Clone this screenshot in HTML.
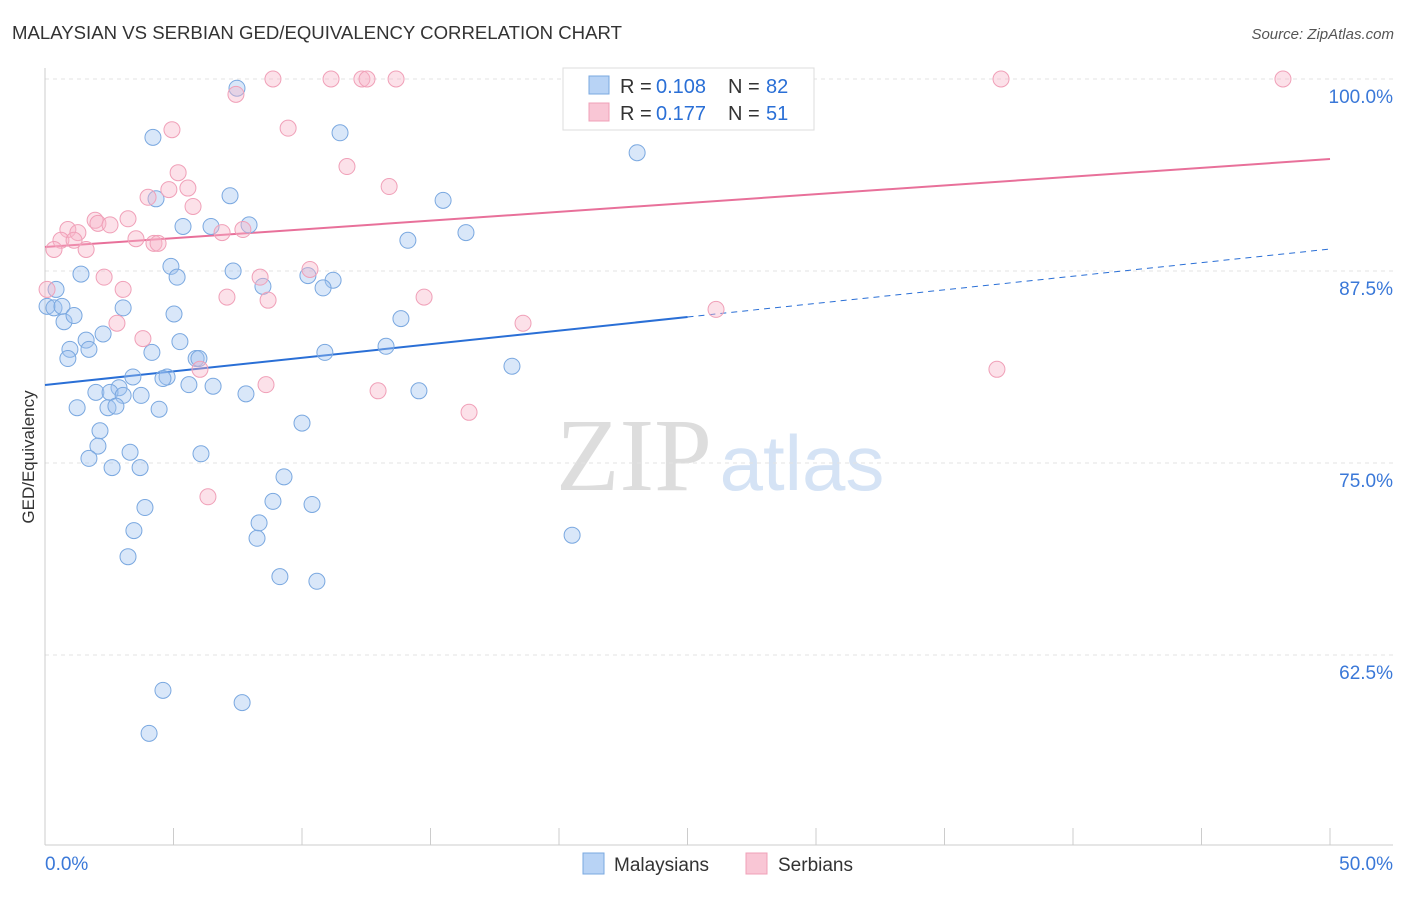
<!DOCTYPE html>
<html><head><meta charset="utf-8"><style>
body{margin:0;background:#fff;font-family:"Liberation Sans",sans-serif}
</style></head><body>
<svg id="c" width="1406" height="892" xmlns="http://www.w3.org/2000/svg">
<text x="12" y="39" font-size="18.6" fill="#333">MALAYSIAN VS SERBIAN GED/EQUIVALENCY CORRELATION CHART</text>
<text x="1394" y="39" font-size="15" fill="#555" font-style="italic" text-anchor="end">Source: ZipAtlas.com</text>
<text x="34" y="457" font-size="17" fill="#333" transform="rotate(-90 34 457)" text-anchor="middle">GED/Equivalency</text>
<g><text x="634" y="490" font-size="104" fill="#ddd" font-family="Liberation Serif" text-anchor="middle">ZIP</text><text x="802" y="490" font-size="78" fill="#d5e3f5" text-anchor="middle">atlas</text></g>
<g id="grid"></g><g id="axes"></g><g id="lines"></g><g id="pts"></g>
<g>
<rect x="563" y="68" width="251" height="62" fill="#fff" stroke="#ddd"/>
<rect x="589" y="76" width="20" height="18" fill="#b8d3f5" stroke="#7aa8e0"/>
<rect x="589" y="103" width="20" height="18" fill="#f9c6d5" stroke="#f0a0b8"/>
<text x="620" y="93" font-size="20" fill="#333">R =</text><text x="656" y="93" font-size="20" fill="#2a6fd6">0.108</text>
<text x="728" y="93" font-size="20" fill="#333">N =</text><text x="766" y="93" font-size="20" fill="#2a6fd6">82</text>
<text x="620" y="120" font-size="20" fill="#333">R =</text><text x="656" y="120" font-size="20" fill="#2a6fd6">0.177</text>
<text x="728" y="120" font-size="20" fill="#333">N =</text><text x="766" y="120" font-size="20" fill="#2a6fd6">51</text>
</g>
<g>
<rect x="583" y="853" width="21" height="21" fill="#b8d3f5" stroke="#7aa8e0"/>
<text x="614" y="871" font-size="19" fill="#333">Malaysians</text>
<rect x="746" y="853" width="21" height="21" fill="#f9c6d5" stroke="#f0a0b8"/>
<text x="778" y="871" font-size="19" fill="#333">Serbians</text>
</g>
</svg>
<script>
const blueX=[7.47,4.20,11.48,23.04,4.32,7.20,15.49,5.37,6.46,7.94,16.38,14.12,1.40,4.90,7.32,5.14,10.23,11.21,8.48,10.82,0.43,0.08,0.35,0.66,3.04,0.74,1.13,5.02,13.85,1.60,2.26,5.25,0.97,1.71,4.16,10.89,13.27,0.89,5.88,5.99,18.17,3.42,4.75,4.59,2.88,5.60,6.54,1.98,2.53,3.04,3.74,7.82,14.55,1.25,2.45,2.76,4.44,10.0,2.14,2.06,3.31,6.07,1.71,2.61,3.70,9.30,8.87,3.89,10.39,8.33,3.46,8.25,20.51,3.23,9.14,10.58,4.59,7.67,4.05];
const blueY=[99.4,96.2,96.5,95.2,92.2,92.4,92.1,90.4,90.4,90.5,90.0,89.5,87.3,87.8,87.5,87.1,87.2,86.9,86.5,86.4,86.3,85.2,85.1,85.2,85.1,84.2,84.6,84.7,84.4,83.0,83.4,82.9,82.4,82.4,82.2,82.2,82.6,81.8,81.8,81.8,81.3,80.6,80.6,80.5,79.9,80.1,80.0,79.6,79.6,79.4,79.4,79.5,79.7,78.6,78.6,78.7,78.5,77.6,77.1,76.1,75.7,75.6,75.3,74.7,74.7,74.1,72.5,72.1,72.3,71.1,70.6,70.1,70.3,68.9,67.6,67.3,60.2,59.4,57.4];
const pinkX=[8.87,11.13,12.33,12.53,13.66,20.58,37.20,48.17,7.43,4.94,9.46,11.75,5.18,13.39,4.82,5.56,4.01,5.76,1.95,3.23,2.06,2.53,0.89,1.28,7.70,6.89,3.54,0.62,1.13,4.24,4.40,0.35,1.60,10.31,2.30,8.37,3.04,0.08,7.08,8.68,14.75,26.11,2.80,18.60,3.81,6.03,8.60,37.04,12.96,16.50,6.34];
const pinkY=[100,100,100,100,100,100,100,100,99.0,96.7,96.8,94.3,93.9,93.0,92.8,92.9,92.3,91.7,90.8,90.9,90.6,90.5,90.2,90.0,90.2,90.0,89.6,89.5,89.5,89.3,89.3,88.9,88.9,87.6,87.1,87.1,86.3,86.3,85.8,85.6,85.8,85.0,84.1,84.1,83.1,81.1,80.1,81.1,79.7,78.3,72.8];
const yTicks=[100,87.5,75,62.5];
const yTickLabels=["100.0%","87.5%","75.0%","62.5%"];
const blueLine=[80.08,88.93]; const blueSolidEnd=25;
const pinkLine=[89.06,94.79];
const NS="http://www.w3.org/2000/svg";
const sx=v=>45+v*25.7, sy=v=>79+(100-v)*15.36;
function mk(t,a,p){const e=document.createElementNS(NS,t);for(const k in a)e.setAttribute(k,a[k]);p.appendChild(e);return e;}
const grid=document.getElementById('grid'),axes=document.getElementById('axes');
yTicks.forEach((v,i)=>{
 const g=mk('line',{x1:45,x2:1393,y1:sy(v),y2:sy(v),stroke:'#e3e3e3','stroke-dasharray':'4,4'},grid);
 
 
 const t=mk('text',{x:1393,y:sy(v)+24,'font-size':19,fill:'#3a78d8','text-anchor':'end'},axes);t.textContent=yTickLabels[i];
 
 
});
mk('line',{x1:45,x2:45,y1:68,y2:845,stroke:'#ccc'},axes);
mk('line',{x1:45,x2:1393,y1:845,y2:845,stroke:'#ccc'},axes);
for(let v=0;v<=50;v+=5){const l=mk('line',{x1:sx(v),x2:sx(v),y1:828,y2:845,stroke:'#ccc'},axes);
 
 }
let t=mk('text',{x:45,y:870,'font-size':19,fill:'#3a78d8'},axes);t.textContent='0.0%';


t=mk('text',{x:1393,y:870,'font-size':19,fill:'#3a78d8','text-anchor':'end'},axes);t.textContent='50.0%';


const pts=document.getElementById('pts');
function dots(X,Y,fill,stroke,name){X.forEach((x,i)=>{const c=mk('circle',{cx:sx(x),cy:sy(Y[i]),r:8,fill:fill,stroke:stroke,'stroke-width':1},pts);
 
 });}
dots(blueX,blueY,'rgba(160,196,240,0.4)','#7aa8e0','malaysian-point');
dots(pinkX,pinkY,'rgba(248,180,200,0.4)','#f0a0b8','serbian-point');
const lines=document.getElementById('lines');
const yb=x=>blueLine[0]+(blueLine[1]-blueLine[0])*x/50;
let l=mk('line',{x1:sx(0),y1:sy(yb(0)),x2:sx(blueSolidEnd),y2:sy(yb(blueSolidEnd)),stroke:'#2a6fd6','stroke-width':2},lines);


l=mk('line',{x1:sx(blueSolidEnd),y1:sy(yb(blueSolidEnd)),x2:sx(50),y2:sy(yb(50)),stroke:'#2a6fd6','stroke-width':1,'stroke-dasharray':'6,5'},lines);


l=mk('line',{x1:sx(0),y1:sy(pinkLine[0]),x2:sx(50),y2:sy(pinkLine[1]),stroke:'#e8709a','stroke-width':2},lines);


</script>
</body></html>
